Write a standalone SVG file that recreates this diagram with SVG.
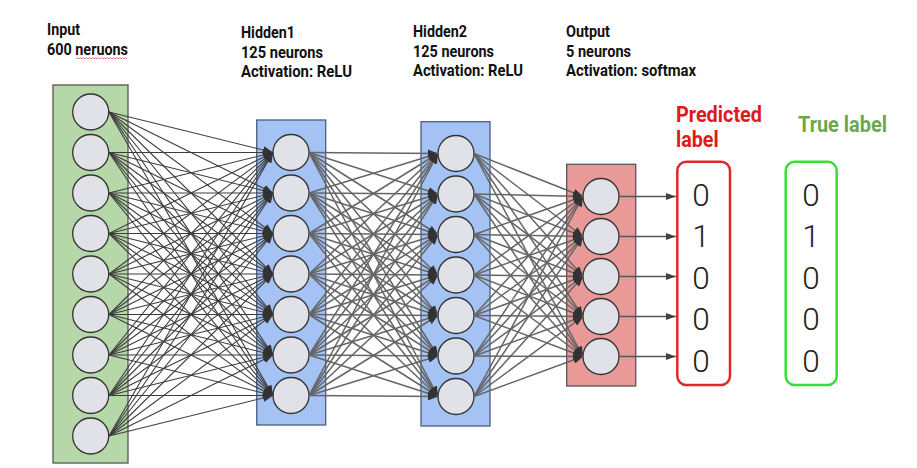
<svg xmlns="http://www.w3.org/2000/svg" width="917" height="468" viewBox="0 0 917 468">
<style>
.hdr{font-family:Roboto,"Liberation Sans",sans-serif;font-weight:bold;font-size:16.5px;fill:#111}
.lab{font-family:Roboto,"Liberation Sans",sans-serif;font-weight:bold;font-size:22px}
.dig{font-family:Roboto,"Open Sans",sans-serif;font-weight:300;font-size:31.5px;fill:#222;text-anchor:middle}
.n{fill:#e0e2e7;stroke:#333;stroke-width:1.3}
.c1 line{stroke:#3c3c3c;stroke-width:1.1;marker-end:url(#ah)}
.c2 line{stroke:#656565;stroke-width:1.5;marker-end:url(#ah)}
.c3 line{stroke:#555;stroke-width:1.4;marker-end:url(#ah2)}
</style>
<defs>
<marker id="ah" markerUnits="userSpaceOnUse" markerWidth="10" markerHeight="8" refX="10" refY="4" orient="auto"><path d="M0,0 L10,4 L0,8 z" fill="#333"/></marker>
<marker id="ah2" markerUnits="userSpaceOnUse" markerWidth="10" markerHeight="8" refX="10" refY="4" orient="auto"><path d="M0,0.5 L10,4 L0,7.5 z" fill="#444"/></marker>
</defs>
<rect width="917" height="468" fill="#fff"/>

<g id="input">
<text class="hdr" x="47" y="35" textLength="33" lengthAdjust="spacingAndGlyphs">Input</text>
<text class="hdr" x="47" y="55" textLength="81" lengthAdjust="spacingAndGlyphs">600 neruons</text>
<path d="M76,59 l1.5,-1.5 l1.5,1.5 l1.5,-1.5 l1.5,1.5 l1.5,-1.5 l1.5,1.5 l1.5,-1.5 l1.5,1.5 l1.5,-1.5 l1.5,1.5 l1.5,-1.5 l1.5,1.5 l1.5,-1.5 l1.5,1.5 l1.5,-1.5 l1.5,1.5 l1.5,-1.5 l1.5,1.5 l1.5,-1.5 l1.5,1.5 l1.5,-1.5 l1.5,1.5 l1.5,-1.5 l1.5,1.5 l1.5,-1.5 l1.5,1.5 l1.5,-1.5 l1.5,1.5 l1.5,-1.5 l1.5,1.5 l1.5,-1.5 l1.5,1.5 l1.5,-1.5 l1.5,1.5" fill="none" stroke="#e06060" stroke-width="0.8"/>
<rect x="53" y="85" width="75" height="378" fill="#b6d7a8" stroke="#555" stroke-width="1.3"/>
<circle class="n" cx="90.7" cy="112" r="18"/>
<circle class="n" cx="90.7" cy="152.5" r="18"/>
<circle class="n" cx="90.7" cy="193" r="18"/>
<circle class="n" cx="90.7" cy="233.5" r="18"/>
<circle class="n" cx="90.7" cy="274" r="18"/>
<circle class="n" cx="90.7" cy="314.5" r="18"/>
<circle class="n" cx="90.7" cy="355" r="18"/>
<circle class="n" cx="90.7" cy="395.5" r="18"/>
<circle class="n" cx="90.7" cy="436" r="18"/>
</g>

<g id="hidden1">
<text class="hdr" x="241" y="38" textLength="54" lengthAdjust="spacingAndGlyphs">Hidden1</text>
<text class="hdr" x="241" y="57.5" textLength="82" lengthAdjust="spacingAndGlyphs">125 neurons</text>
<text class="hdr" x="241" y="77" textLength="111" lengthAdjust="spacingAndGlyphs">Activation: ReLU</text>
<rect x="256.7" y="120" width="69" height="305" fill="#a4c2f4" stroke="#4b5e7c" stroke-width="1.3"/>
<circle class="n" cx="291" cy="152.5" r="18"/>
<circle class="n" cx="291" cy="193" r="18"/>
<circle class="n" cx="291" cy="233.5" r="18"/>
<circle class="n" cx="291" cy="274" r="18"/>
<circle class="n" cx="291" cy="314.5" r="18"/>
<circle class="n" cx="291" cy="355" r="18"/>
<circle class="n" cx="291" cy="395.5" r="18"/>
</g>

<g id="hidden2">
<text class="hdr" x="413" y="36.5" textLength="54" lengthAdjust="spacingAndGlyphs">Hidden2</text>
<text class="hdr" x="413" y="56.5" textLength="81" lengthAdjust="spacingAndGlyphs">125 neurons</text>
<text class="hdr" x="413" y="76" textLength="110" lengthAdjust="spacingAndGlyphs">Activation: ReLU</text>
<rect x="421" y="121.7" width="69" height="304.3" fill="#a4c2f4" stroke="#4b5e7c" stroke-width="1.3"/>
<circle class="n" cx="456" cy="153.5" r="18"/>
<circle class="n" cx="456" cy="194" r="18"/>
<circle class="n" cx="456" cy="234.5" r="18"/>
<circle class="n" cx="456" cy="275" r="18"/>
<circle class="n" cx="456" cy="315.5" r="18"/>
<circle class="n" cx="456" cy="356" r="18"/>
<circle class="n" cx="456" cy="396.5" r="18"/>
</g>

<g id="output">
<text class="hdr" x="566" y="36.5" textLength="44" lengthAdjust="spacingAndGlyphs">Output</text>
<text class="hdr" x="566" y="56.5" textLength="65" lengthAdjust="spacingAndGlyphs">5 neurons</text>
<text class="hdr" x="566" y="76" textLength="130" lengthAdjust="spacingAndGlyphs">Activation: softmax</text>
<rect x="566.7" y="164.3" width="69" height="221.7" fill="#ea9999" stroke="#555" stroke-width="1.3"/>
<circle class="n" cx="601" cy="196.5" r="18"/>
<circle class="n" cx="601" cy="236.5" r="18"/>
<circle class="n" cx="601" cy="276.5" r="18"/>
<circle class="n" cx="601" cy="316.5" r="18"/>
<circle class="n" cx="601" cy="356.5" r="18"/>
</g>

<g id="predicted">
<text class="lab" x="676" y="121.7" fill="#e0191b" textLength="86" lengthAdjust="spacingAndGlyphs">Predicted</text>
<text class="lab" x="676" y="146.7" fill="#e0191b" textLength="42.6" lengthAdjust="spacingAndGlyphs">label</text>
<rect x="677.3" y="161.7" width="52.7" height="223.3" rx="9" fill="#fff" stroke="#e0282a" stroke-width="2.5"/>
<text class="dig" x="701" y="205.7">0</text>
<text class="dig" x="701" y="247">1</text>
<text class="dig" x="701" y="288.5">0</text>
<text class="dig" x="701" y="330">0</text>
<text class="dig" x="701" y="371.5">0</text>
</g>

<g id="true">
<text class="lab" x="798" y="131.7" fill="#6aa84f" textLength="89" lengthAdjust="spacingAndGlyphs">True label</text>
<rect x="785.7" y="161.7" width="51" height="223.3" rx="9" fill="#fff" stroke="#33e033" stroke-width="2.5"/>
<text class="dig" x="811" y="205.7">0</text>
<text class="dig" x="811" y="247">1</text>
<text class="dig" x="811" y="288.5">0</text>
<text class="dig" x="811" y="330">0</text>
<text class="dig" x="811" y="371.5">0</text>
</g>

<g id="connectors">
<g class="c1">
<line x1="109" y1="112" x2="273" y2="152.5"/><line x1="109" y1="112" x2="273" y2="193"/><line x1="109" y1="112" x2="273" y2="233.5"/><line x1="109" y1="112" x2="273" y2="274"/><line x1="109" y1="112" x2="273" y2="314.5"/><line x1="109" y1="112" x2="273" y2="355"/><line x1="109" y1="112" x2="273" y2="395.5"/>
<line x1="109" y1="152.5" x2="273" y2="152.5"/><line x1="109" y1="152.5" x2="273" y2="193"/><line x1="109" y1="152.5" x2="273" y2="233.5"/><line x1="109" y1="152.5" x2="273" y2="274"/><line x1="109" y1="152.5" x2="273" y2="314.5"/><line x1="109" y1="152.5" x2="273" y2="355"/><line x1="109" y1="152.5" x2="273" y2="395.5"/>
<line x1="109" y1="193" x2="273" y2="152.5"/><line x1="109" y1="193" x2="273" y2="193"/><line x1="109" y1="193" x2="273" y2="233.5"/><line x1="109" y1="193" x2="273" y2="274"/><line x1="109" y1="193" x2="273" y2="314.5"/><line x1="109" y1="193" x2="273" y2="355"/><line x1="109" y1="193" x2="273" y2="395.5"/>
<line x1="109" y1="233.5" x2="273" y2="152.5"/><line x1="109" y1="233.5" x2="273" y2="193"/><line x1="109" y1="233.5" x2="273" y2="233.5"/><line x1="109" y1="233.5" x2="273" y2="274"/><line x1="109" y1="233.5" x2="273" y2="314.5"/><line x1="109" y1="233.5" x2="273" y2="355"/><line x1="109" y1="233.5" x2="273" y2="395.5"/>
<line x1="109" y1="274" x2="273" y2="152.5"/><line x1="109" y1="274" x2="273" y2="193"/><line x1="109" y1="274" x2="273" y2="233.5"/><line x1="109" y1="274" x2="273" y2="274"/><line x1="109" y1="274" x2="273" y2="314.5"/><line x1="109" y1="274" x2="273" y2="355"/><line x1="109" y1="274" x2="273" y2="395.5"/>
<line x1="109" y1="314.5" x2="273" y2="152.5"/><line x1="109" y1="314.5" x2="273" y2="193"/><line x1="109" y1="314.5" x2="273" y2="233.5"/><line x1="109" y1="314.5" x2="273" y2="274"/><line x1="109" y1="314.5" x2="273" y2="314.5"/><line x1="109" y1="314.5" x2="273" y2="355"/><line x1="109" y1="314.5" x2="273" y2="395.5"/>
<line x1="109" y1="355" x2="273" y2="152.5"/><line x1="109" y1="355" x2="273" y2="193"/><line x1="109" y1="355" x2="273" y2="233.5"/><line x1="109" y1="355" x2="273" y2="274"/><line x1="109" y1="355" x2="273" y2="314.5"/><line x1="109" y1="355" x2="273" y2="355"/><line x1="109" y1="355" x2="273" y2="395.5"/>
<line x1="109" y1="395.5" x2="273" y2="152.5"/><line x1="109" y1="395.5" x2="273" y2="193"/><line x1="109" y1="395.5" x2="273" y2="233.5"/><line x1="109" y1="395.5" x2="273" y2="274"/><line x1="109" y1="395.5" x2="273" y2="314.5"/><line x1="109" y1="395.5" x2="273" y2="355"/><line x1="109" y1="395.5" x2="273" y2="395.5"/>
<line x1="109" y1="436" x2="273" y2="152.5"/><line x1="109" y1="436" x2="273" y2="193"/><line x1="109" y1="436" x2="273" y2="233.5"/><line x1="109" y1="436" x2="273" y2="274"/><line x1="109" y1="436" x2="273" y2="314.5"/><line x1="109" y1="436" x2="273" y2="355"/><line x1="109" y1="436" x2="273" y2="395.5"/>
</g>
<g class="c2">
<line x1="309" y1="152.5" x2="438" y2="153.5"/><line x1="309" y1="152.5" x2="438" y2="194"/><line x1="309" y1="152.5" x2="438" y2="234.5"/><line x1="309" y1="152.5" x2="438" y2="275"/><line x1="309" y1="152.5" x2="438" y2="315.5"/><line x1="309" y1="152.5" x2="438" y2="356"/><line x1="309" y1="152.5" x2="438" y2="396.5"/>
<line x1="309" y1="193" x2="438" y2="153.5"/><line x1="309" y1="193" x2="438" y2="194"/><line x1="309" y1="193" x2="438" y2="234.5"/><line x1="309" y1="193" x2="438" y2="275"/><line x1="309" y1="193" x2="438" y2="315.5"/><line x1="309" y1="193" x2="438" y2="356"/><line x1="309" y1="193" x2="438" y2="396.5"/>
<line x1="309" y1="233.5" x2="438" y2="153.5"/><line x1="309" y1="233.5" x2="438" y2="194"/><line x1="309" y1="233.5" x2="438" y2="234.5"/><line x1="309" y1="233.5" x2="438" y2="275"/><line x1="309" y1="233.5" x2="438" y2="315.5"/><line x1="309" y1="233.5" x2="438" y2="356"/><line x1="309" y1="233.5" x2="438" y2="396.5"/>
<line x1="309" y1="274" x2="438" y2="153.5"/><line x1="309" y1="274" x2="438" y2="194"/><line x1="309" y1="274" x2="438" y2="234.5"/><line x1="309" y1="274" x2="438" y2="275"/><line x1="309" y1="274" x2="438" y2="315.5"/><line x1="309" y1="274" x2="438" y2="356"/><line x1="309" y1="274" x2="438" y2="396.5"/>
<line x1="309" y1="314.5" x2="438" y2="153.5"/><line x1="309" y1="314.5" x2="438" y2="194"/><line x1="309" y1="314.5" x2="438" y2="234.5"/><line x1="309" y1="314.5" x2="438" y2="275"/><line x1="309" y1="314.5" x2="438" y2="315.5"/><line x1="309" y1="314.5" x2="438" y2="356"/><line x1="309" y1="314.5" x2="438" y2="396.5"/>
<line x1="309" y1="355" x2="438" y2="153.5"/><line x1="309" y1="355" x2="438" y2="194"/><line x1="309" y1="355" x2="438" y2="234.5"/><line x1="309" y1="355" x2="438" y2="275"/><line x1="309" y1="355" x2="438" y2="315.5"/><line x1="309" y1="355" x2="438" y2="356"/><line x1="309" y1="355" x2="438" y2="396.5"/>
<line x1="309" y1="395.5" x2="438" y2="153.5"/><line x1="309" y1="395.5" x2="438" y2="194"/><line x1="309" y1="395.5" x2="438" y2="234.5"/><line x1="309" y1="395.5" x2="438" y2="275"/><line x1="309" y1="395.5" x2="438" y2="315.5"/><line x1="309" y1="395.5" x2="438" y2="356"/><line x1="309" y1="395.5" x2="438" y2="396.5"/>
</g>
<g class="c2">
<line x1="474" y1="153.5" x2="583" y2="196.5"/><line x1="474" y1="153.5" x2="583" y2="236.5"/><line x1="474" y1="153.5" x2="583" y2="276.5"/><line x1="474" y1="153.5" x2="583" y2="316.5"/><line x1="474" y1="153.5" x2="583" y2="356.5"/>
<line x1="474" y1="194" x2="583" y2="196.5"/><line x1="474" y1="194" x2="583" y2="236.5"/><line x1="474" y1="194" x2="583" y2="276.5"/><line x1="474" y1="194" x2="583" y2="316.5"/><line x1="474" y1="194" x2="583" y2="356.5"/>
<line x1="474" y1="234.5" x2="583" y2="196.5"/><line x1="474" y1="234.5" x2="583" y2="236.5"/><line x1="474" y1="234.5" x2="583" y2="276.5"/><line x1="474" y1="234.5" x2="583" y2="316.5"/><line x1="474" y1="234.5" x2="583" y2="356.5"/>
<line x1="474" y1="275" x2="583" y2="196.5"/><line x1="474" y1="275" x2="583" y2="236.5"/><line x1="474" y1="275" x2="583" y2="276.5"/><line x1="474" y1="275" x2="583" y2="316.5"/><line x1="474" y1="275" x2="583" y2="356.5"/>
<line x1="474" y1="315.5" x2="583" y2="196.5"/><line x1="474" y1="315.5" x2="583" y2="236.5"/><line x1="474" y1="315.5" x2="583" y2="276.5"/><line x1="474" y1="315.5" x2="583" y2="316.5"/><line x1="474" y1="315.5" x2="583" y2="356.5"/>
<line x1="474" y1="356" x2="583" y2="196.5"/><line x1="474" y1="356" x2="583" y2="236.5"/><line x1="474" y1="356" x2="583" y2="276.5"/><line x1="474" y1="356" x2="583" y2="316.5"/><line x1="474" y1="356" x2="583" y2="356.5"/>
<line x1="474" y1="396.5" x2="583" y2="196.5"/><line x1="474" y1="396.5" x2="583" y2="236.5"/><line x1="474" y1="396.5" x2="583" y2="276.5"/><line x1="474" y1="396.5" x2="583" y2="316.5"/><line x1="474" y1="396.5" x2="583" y2="356.5"/>
</g>
<g class="c3">
<line x1="619" y1="196.5" x2="676" y2="196.5"/>
<line x1="619" y1="236.5" x2="676" y2="236.5"/>
<line x1="619" y1="276.5" x2="676" y2="276.5"/>
<line x1="619" y1="316.5" x2="676" y2="316.5"/>
<line x1="619" y1="356.5" x2="676" y2="356.5"/>
</g>
</g>
</svg>
